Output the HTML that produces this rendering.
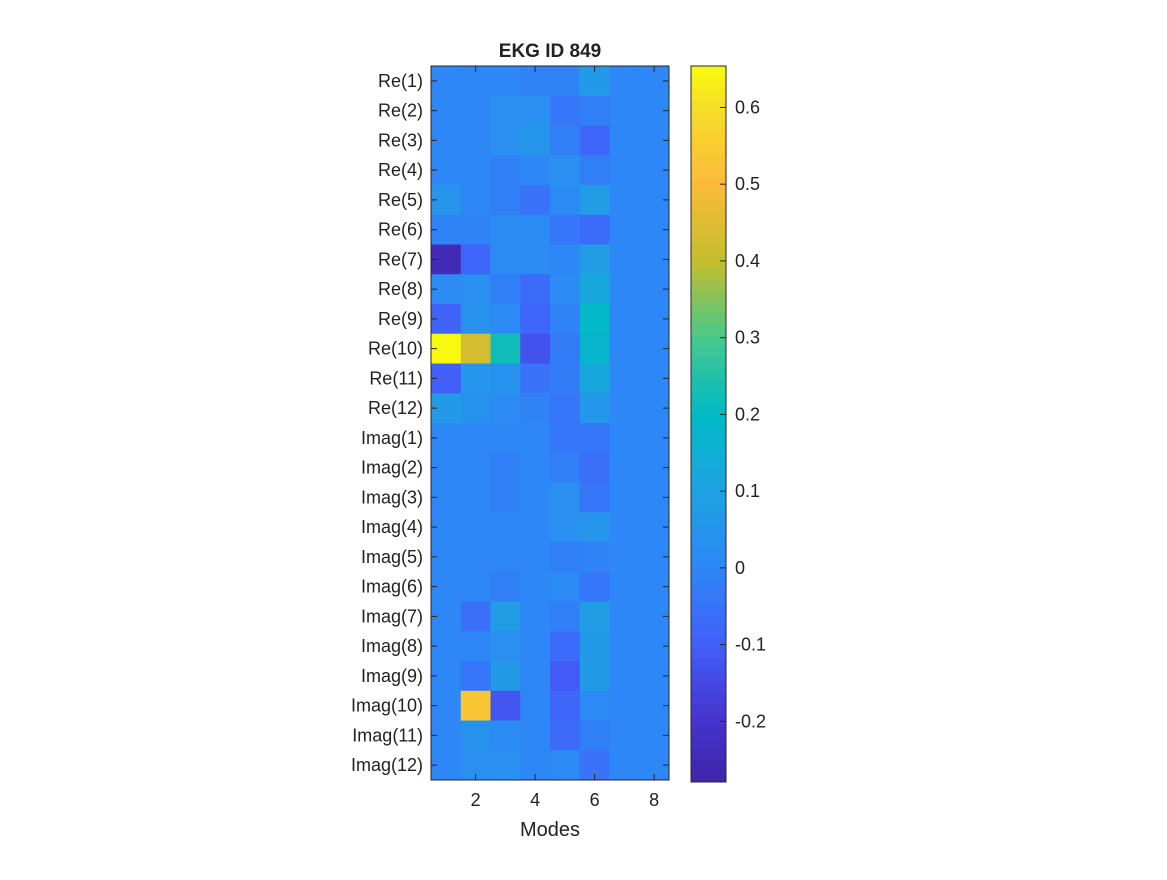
<!DOCTYPE html>
<html><head><meta charset="utf-8"><style>
body{margin:0;background:#fff;}
svg text{font-family:"Liberation Sans",sans-serif;fill:#222;}
</style></head><body>
<svg id="chart" width="1167" height="875">
<text x="550" y="57" text-anchor="middle" font-size="19" font-weight="bold">EKG ID 849</text>
<g id="cells"></g>
<g id="axes"></g>
<g id="cbar"></g>
<text x="550" y="836" text-anchor="middle" font-size="20">Modes</text>
</svg>
<script>
const rowLabels=["Re(1)","Re(2)","Re(3)","Re(4)","Re(5)","Re(6)","Re(7)","Re(8)","Re(9)","Re(10)","Re(11)","Re(12)","Imag(1)","Imag(2)","Imag(3)","Imag(4)","Imag(5)","Imag(6)","Imag(7)","Imag(8)","Imag(9)","Imag(10)","Imag(11)","Imag(12)"];
const xTicks=[2,4,6,8];
const cbTicks=[-0.2,-0.1,0,0.1,0.2,0.3,0.4,0.5,0.6];
const values=[
[0,0,0,-0.01,-0.01,0.07,0,0],
[0,0,0.03,0.03,-0.04,-0.02,0,0],
[0,0,0.03,0.05,-0.02,-0.08,0,0],
[0,0,-0.02,0,0.03,-0.02,0,0],
[0.05,0,-0.02,-0.05,0.01,0.08,0,0],
[-0.01,-0.01,0.02,0.02,-0.04,-0.07,0,0],
[-0.25,-0.08,0.02,0.02,0,0.08,0,0],
[0.01,0.03,-0.02,-0.07,0.01,0.12,0,0],
[-0.09,0.04,0.01,-0.08,-0.01,0.19,0,0],
[0.65,0.43,0.22,-0.13,-0.03,0.18,0,0],
[-0.1,0.05,0.04,-0.05,-0.03,0.12,0,0],
[0.07,0.04,0.01,-0.01,-0.04,0.06,0,0],
[0,0,0,0,-0.04,-0.04,0,0],
[0,0,-0.02,0,-0.02,-0.06,0,0],
[0,0,-0.02,0,0.03,-0.04,0,0],
[0,0,0,0,0.03,0.05,0,0],
[0,0,0,0,-0.02,-0.01,0,0],
[0,0,-0.02,0,0.01,-0.04,0,0],
[0,-0.06,0.08,0,-0.02,0.08,0,0],
[0,0,0.03,0,-0.07,0.07,0,0],
[0,-0.04,0.07,0,-0.11,0.07,0,0],
[0,0.53,-0.12,0,-0.08,0.01,0,0],
[0,0.04,0.01,0,-0.07,-0.02,0,0],
[0,0.03,0.03,0,0.01,-0.05,0,0]];
const vmin=-0.279, vmax=0.654;
const stops=[[-0.279,62,38,168],[-0.2,71,50,205],[-0.1,66,95,250],[0,45,135,246],[0.1,30,162,226],[0.2,0,186,198],[0.3,70,200,140],[0.4,195,190,45],[0.5,252,186,58],[0.6,245,222,40],[0.654,249,251,14]];
function color(v){v=Math.max(vmin,Math.min(vmax,v));for(let i=1;i<stops.length;i++){if(v<=stops[i][0]){const a=stops[i-1],b=stops[i],t=(v-a[0])/(b[0]-a[0]);return `rgb(${[1,2,3].map(k=>Math.round(a[k]+(b[k]-a[k])*t)).join(',')})`;}}return 'rgb(249,251,14)';}
const L=431,R=669,T=66,B=780,nC=8,nR=rowLabels.length;
const cw=(R-L)/nC,rh=(B-T)/nR;
const xPos=c=>L+(c-0.5)*cw; const yPos=r=>T+r*rh;
const NS="http://www.w3.org/2000/svg";
function mk(tag,attrs,parent){const e=document.createElementNS(NS,tag);for(const k in attrs)e.setAttribute(k,attrs[k]);parent.appendChild(e);return e;}
const cells=document.getElementById('cells');
values.forEach((row,r)=>row.forEach((v,c)=>{
 const e=mk('rect',{x:xPos(c+1)-cw/2,y:yPos(r),width:cw+0.5,height:rh+0.5,fill:color(v)},cells);
 
 
}));
const ax=document.getElementById('axes');
mk('rect',{x:L,y:T,width:R-L,height:B-T,fill:'none',stroke:'#262626','stroke-width':1},ax);
rowLabels.forEach((lab,r)=>{
 const y=yPos(r)+rh/2;
 mk('line',{x1:L,x2:L+6,y1:y,y2:y,stroke:'#262626'},ax);
 mk('line',{x1:R,x2:R-6,y1:y,y2:y,stroke:'#262626'},ax);
 const t=mk('text',{x:L-8,y:y+6,'text-anchor':'end','font-size':18},ax);t.textContent=lab;
 
 
});
xTicks.forEach(v=>{
 const x=xPos(v);
 mk('line',{x1:x,x2:x,y1:B,y2:B-6,stroke:'#262626'},ax);
 mk('line',{x1:x,x2:x,y1:T,y2:T+6,stroke:'#262626'},ax);
 const t=mk('text',{x:x,y:B+26,'text-anchor':'middle','font-size':18},ax);t.textContent=v;
 
 
});
const cb=document.getElementById('cbar');
const CL=691,CR=726,CT=66,CB=782;
const cy=v=>CB-(v-vmin)/(vmax-vmin)*(CB-CT);
const n=64;
for(let i=0;i<n;i++){const v0=vmin+(vmax-vmin)*i/n,v1=vmin+(vmax-vmin)*(i+1)/n;
 const e=mk('rect',{x:CL,y:cy(v1),width:CR-CL,height:cy(v0)-cy(v1)+0.5,fill:color((v0+v1)/2)},cb);
 
 
}
mk('rect',{x:CL,y:CT,width:CR-CL,height:CB-CT,fill:'none',stroke:'#262626'},cb);
cbTicks.forEach(v=>{
 const y=cy(v);
 mk('line',{x1:CR,x2:CR-6,y1:y,y2:y,stroke:'#262626'},cb);
 const t=mk('text',{x:CR+9,y:y+6,'font-size':18},cb);t.textContent=(v===0?'0':v.toString());
 
 
});
</script>
</body></html>
